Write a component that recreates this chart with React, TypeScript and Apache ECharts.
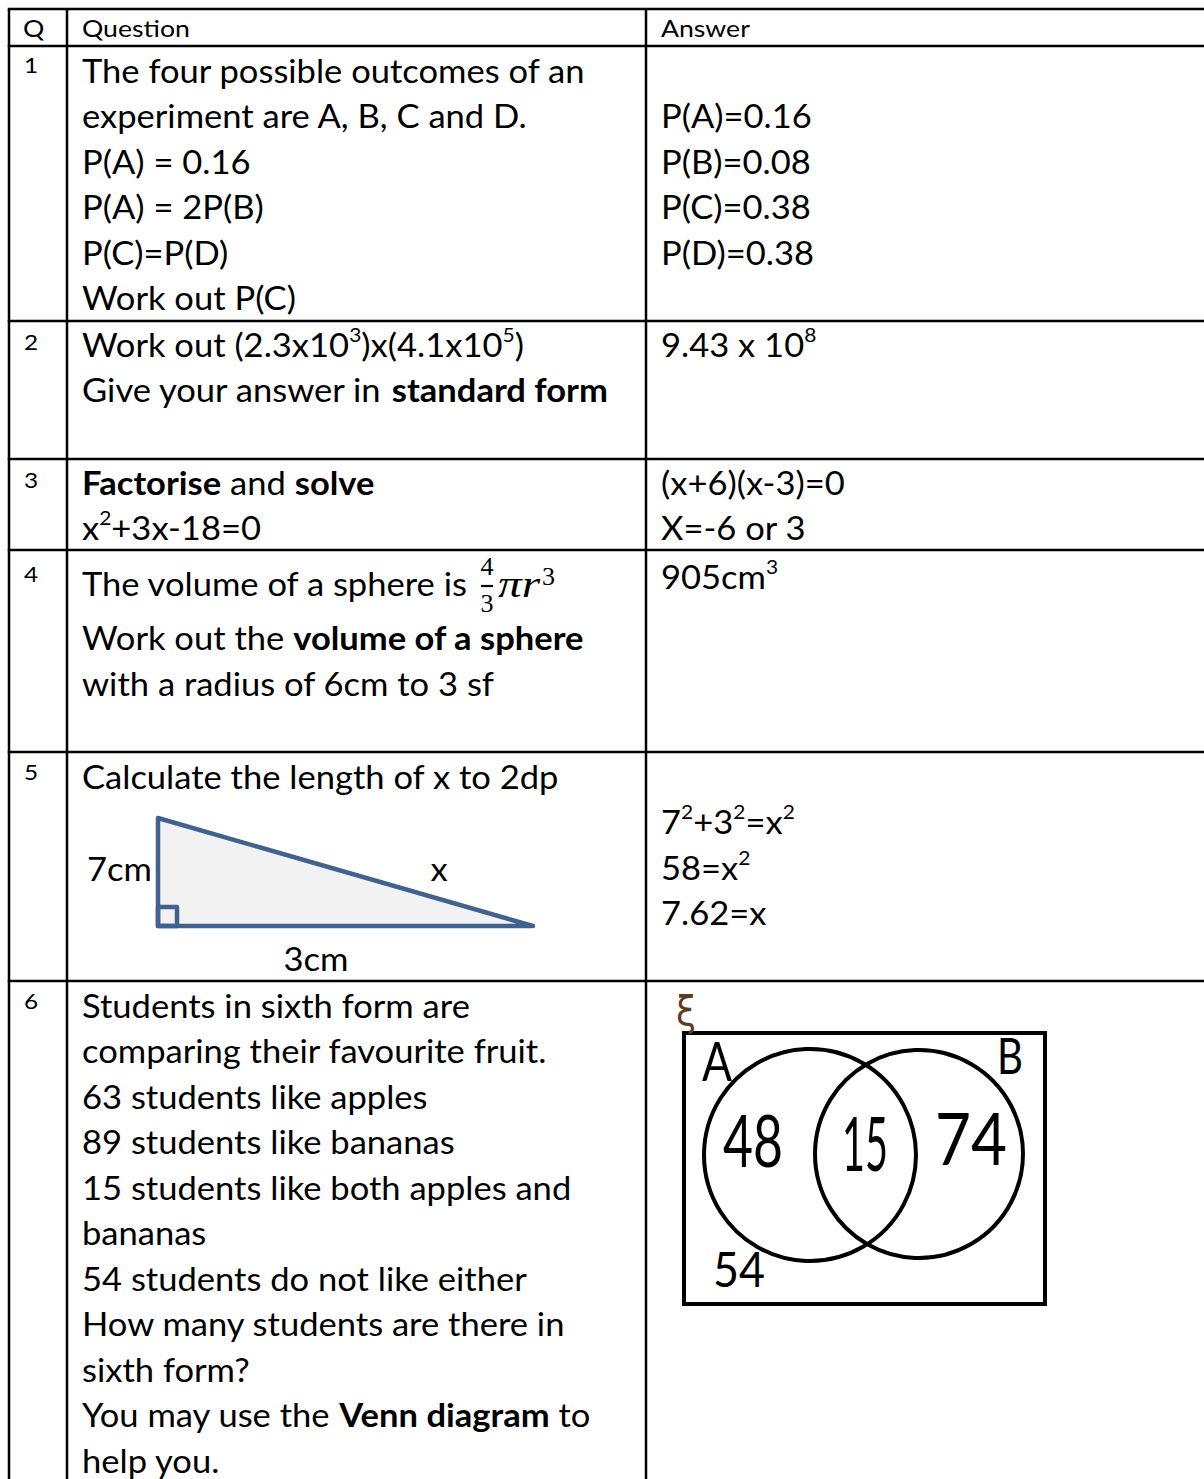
import React, { useEffect, useRef } from 'react';
import * as echarts from 'echarts';

// ---------- content ----------
const HEADERS = ['Q', 'Question', 'Answer'];
const QUESTION_NUMBERS = ['1', '2', '3', '4', '5', '6'];

const Q1_LINES = [
  'The four possible outcomes of an',
  'experiment are A, B, C and D.',
  'P(A) = 0.16',
  'P(A) = 2P(B)',
  'P(C)=P(D)',
  'Work out P(C)',
];
const Q2_LINES = ['Work out (2.3x10{sup|3})x(4.1x10{sup|5})', 'Give your answer in {b|standard form}'];
const Q3_LINES = ['{b|Factorise} and {b|solve}', 'x{sup|2}+3x-18=0'];
const Q4_LINES = ['The volume of a sphere is', 'Work out the {b|volume of a sphere}', 'with a radius of 6cm to 3 sf'];
const Q4_FORMULA = { num: '4', den: '3', body: 'πr', power: '3' };
const Q5_LINES = ['Calculate the length of x to 2dp'];
const Q6_LINES = [
  'Students in sixth form are',
  'comparing their favourite fruit.',
  '63 students like apples',
  '89 students like bananas',
  '15 students like both apples and',
  'bananas',
  '54 students do not like either',
  'How many students are there in',
  'sixth form?',
  'You may use the {b|Venn diagram} to',
  'help you.',
];

const A1_LINES = ['', 'P(A)=0.16', 'P(B)=0.08', 'P(C)=0.38', 'P(D)=0.38'];
const A2_LINES = ['9.43 x 10{sup|8}'];
const A3_LINES = ['(x+6)(x-3)=0', 'X=-6 or 3'];
const A4_LINES = ['905cm{sup|3}'];
const A5_LINES = ['', '7{sup|2}+3{sup|2}=x{sup|2}', '58=x{sup|2}', '7.62=x'];

const TRIANGLE_LABELS = ['7cm', 'x', '3cm'];
const VENN_SET_LABELS = ['A', 'B'];
const VENN_UNIVERSE = 'ξ';
// only A, both, only B, neither
const VENN_VALUES = [48, 15, 74, 54];

// ---------- layout ----------
const W = 1204;
const H = 1479;
const X_LEFT = 9;
const X_COL1 = 67;
const X_COL2 = 646;
const ROW_LINES = [9, 46, 321, 459, 550, 752, 981];
const LINE_STEP = 45.5;
const FONT = 'Lato';
const BODY = 33;
const SUP = 20;
const INK = '#000';

function measure(text: string, font: string): number {
  const ctx = document.createElement('canvas').getContext('2d');
  if (!ctx) return 1;
  ctx.font = font;
  return ctx.measureText(text).width || 1;
}

function richStyles(size: number) {
  return {
    b: { fontFamily: FONT, fontSize: size, fontWeight: 'bold', fill: INK, lineHeight: 40 },
    sup: { fontFamily: FONT, fontSize: SUP, fill: INK, lineHeight: 18, verticalAlign: 'top' },
  };
}

function textEl(str: string, x: number, y: number, size: number, sx: number, opts: any = {}) {
  const align = opts.align || 'left';
  const style: any = {
    text: str,
    x: 0,
    y: 0,
    fontFamily: opts.fontFamily || FONT,
    fontSize: size,
    fontWeight: opts.fontWeight || 'normal',
    fontStyle: opts.fontStyle || 'normal',
    fill: opts.fill || INK,
    align,
    verticalAlign: 'middle',
    textAlign: align,
    textVerticalAlign: 'middle',
    lineHeight: 40,
    rich: richStyles(size),
  };
  if (opts.stroke) {
    style.stroke = opts.stroke;
    style.lineWidth = opts.strokeWidth || 1;
  }
  return { type: 'text', x, y, scaleX: sx, silent: true, style };
}

function lineEl(x1: number, y1: number, x2: number, y2: number, w: number, color: string) {
  return {
    type: 'line',
    silent: true,
    shape: { x1, y1, x2, y2 },
    style: { stroke: color, lineWidth: w },
  };
}

function buildElements() {
  const els: any[] = [];
  const sxBody = 504 / measure(Q1_LINES[0], `${BODY}px ${FONT}`);
  const sxHead = 108 / measure(HEADERS[1], `24px ${FONT}`);

  // table grid
  ROW_LINES.forEach((y) => els.push(lineEl(X_LEFT - 1.25, y, W, y, 2.5, INK)));
  [X_LEFT, X_COL1, X_COL2].forEach((x) => els.push(lineEl(x, ROW_LINES[0], x, H, 2.5, INK)));

  // header
  const headY = 28;
  els.push(textEl(HEADERS[0], 23, headY, 24, sxHead));
  els.push(textEl(HEADERS[1], 82, headY, 24, sxHead));
  els.push(textEl(HEADERS[2], 661, headY, 24, sxHead));

  // question numbers
  const numOffsets = [18, 20, 20, 23, 19, 19];
  QUESTION_NUMBERS.forEach((n, i) => {
    els.push(textEl(n, 24, ROW_LINES[i + 1] + numOffsets[i], 22, sxHead));
  });

  const qx = 82;
  const ax = 661;
  const putLines = (lines: string[], x: number, y0: number, steps?: number[]) => {
    let y = y0;
    lines.forEach((l, i) => {
      if (i > 0) y += steps && steps[i - 1] !== undefined ? steps[i - 1] : LINE_STEP;
      if (l) els.push(textEl(l, x, y, BODY, sxBody));
    });
  };

  putLines(Q1_LINES, qx, 70);
  putLines(Q2_LINES, qx, 344);
  putLines(Q3_LINES, qx, 482);
  putLines(Q4_LINES, qx, 583, [54, 46]);
  putLines(Q5_LINES, qx, 776);
  putLines(Q6_LINES, qx, 1005);

  putLines(A1_LINES, ax, 70);
  putLines(A2_LINES, ax, 344);
  putLines(A3_LINES, ax, 482);
  putLines(A4_LINES, ax, 576);
  putLines(A5_LINES, ax, 776);

  // formula 4/3 πr^3
  const serif = 'Liberation Serif';
  els.push(textEl(Q4_FORMULA.num, 487, 566, 26, 1, { align: 'center', fontFamily: serif }));
  els.push(lineEl(481, 586, 493, 586, 2.2, INK));
  els.push(textEl(Q4_FORMULA.den, 487, 603, 26, 1, { align: 'center', fontFamily: serif }));
  const piW = 42 / measure(Q4_FORMULA.body, `italic 38px ${serif}`);
  els.push(textEl(Q4_FORMULA.body, 498, 584, 38, piW, { fontFamily: serif, fontStyle: 'italic' }));
  els.push(textEl(Q4_FORMULA.power, 542, 576, 26, 1, { fontFamily: serif }));

  // triangle
  const triStroke = '#41618f';
  els.push({
    type: 'polygon',
    silent: true,
    shape: { points: [[158, 818], [158, 926], [533, 926]] },
    style: { fill: '#f2f2f2', stroke: triStroke, lineWidth: 4.5, lineJoin: 'round' },
  });
  els.push({
    type: 'rect',
    silent: true,
    shape: { x: 158, y: 907, width: 19, height: 19 },
    style: { fill: 'none', stroke: triStroke, lineWidth: 4.5, lineJoin: 'round' },
  });
  els.push(textEl(TRIANGLE_LABELS[0], 152, 868, BODY, sxBody, { align: 'right' }));
  els.push(textEl(TRIANGLE_LABELS[1], 439, 868, BODY, sxBody, { align: 'center' }));
  els.push(textEl(TRIANGLE_LABELS[2], 316, 958, BODY, sxBody, { align: 'center' }));

  // Venn diagram
  els.push({
    type: 'rect',
    silent: true,
    shape: { x: 684, y: 1033, width: 361, height: 271 },
    style: { fill: 'none', stroke: INK, lineWidth: 4 },
  });
  els.push({
    type: 'circle',
    silent: true,
    shape: { cx: 810, cy: 1155, r: 106 },
    style: { fill: 'none', stroke: INK, lineWidth: 4 },
  });
  els.push({
    type: 'circle',
    silent: true,
    shape: { cx: 919, cy: 1154, r: 104 },
    style: { fill: 'none', stroke: INK, lineWidth: 4 },
  });

  const hand = (str: string, cx: number, cy: number, size: number, width: number, family = FONT, fill = INK) => {
    const sx = width / measure(str, `${size}px ${family}`);
    els.push(textEl(str, cx, cy, size, sx, { align: 'center', fontFamily: family, fill }));
  };
  hand(String(VENN_VALUES[0]), 753, 1139, 72, 60);
  hand(String(VENN_VALUES[1]), 865, 1142, 76, 46);
  hand(String(VENN_VALUES[2]), 971, 1137, 72, 72);
  hand(String(VENN_VALUES[3]), 739, 1268, 48, 52);
  hand(VENN_SET_LABELS[0], 717, 1060, 54, 30);
  hand(VENN_SET_LABELS[1], 1010, 1055, 50, 26);
  hand(VENN_UNIVERSE, 686, 1011, 40, 20, 'DejaVu Sans', '#5a3c22');

  return els;
}

export default function App() {
  const ref = useRef<HTMLDivElement>(null);
  useEffect(() => {
    document.body.style.margin = '0';
    if (!ref.current) return;
    const chart = echarts.init(ref.current, undefined, { renderer: 'svg', width: W, height: H });
    chart.setOption({
      animation: false,
      backgroundColor: '#ffffff',
      graphic: { elements: buildElements() },
    });
    return () => chart.dispose();
  }, []);
  return <div ref={ref} style={{ width: W, height: H, background: '#fff' }} />;
}
